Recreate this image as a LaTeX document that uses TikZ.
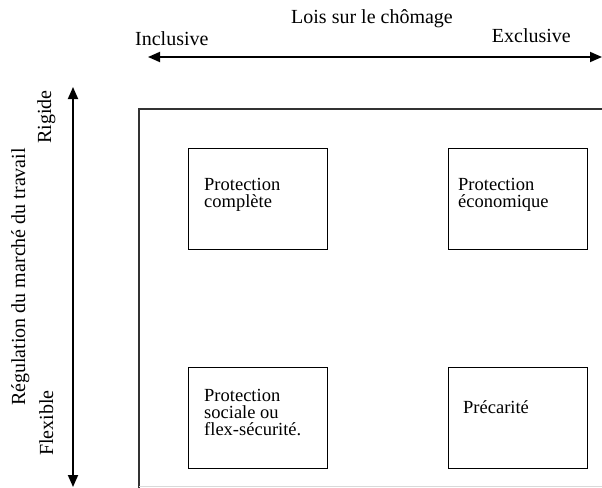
\documentclass[tikz,border=0pt]{standalone}
\usepackage{fontspec}
\setmainfont{Liberation Serif}
\usetikzlibrary{arrows.meta}
\begin{document}
\begin{tikzpicture}[x=1pt,y=-1pt,
  box/.style={draw=black, line width=1.3pt, minimum width=139pt, minimum height=101pt, inner sep=0pt, anchor=north west},
  lbl/.style={font=\fontsize{20}{24}\selectfont, inner sep=0pt},
  boxtxt/.style={font=\fontsize{18.5}{17}\selectfont, inner sep=0pt, anchor=base west},
  axis/.style={line width=1.8pt, {Triangle[length=12pt,width=10pt]}-{Triangle[length=12pt,width=10pt]}}]
\useasboundingbox (0,0) rectangle (602,487);
% outer frame
\draw[line width=1.8pt, black!80] (139,492) -- (139,109) -- (612,109);
\draw[line width=1pt, black!15] (139,486) -- (612,486);
% axes
\coordinate (hl) at (148,57);
\coordinate (hr) at (602,57);
\coordinate (vt) at (73,87);
\coordinate (vb) at (73,487);
\draw[axis] (hl) -- (hr);
\draw[axis] (vt) -- (vb);
% axis labels
\node[lbl, anchor=base] (lois) at (372,24) {Lois sur le chômage};
\node[lbl, anchor=base west] (incl) at (135,46) {Inclusive};
\node[lbl, anchor=base east] (excl) at (571,43) {Exclusive};
\node[lbl, rotate=90, anchor=base] (reg) at (25,277) {Régulation du marché du travail};
\node[lbl, rotate=90, anchor=base] (rig) at (51,117) {Rigide};
\node[lbl, rotate=90, anchor=base] (flex) at (53,423) {Flexible};
% boxes
\node[box] (b1) at (188,148) {};
\node[box] (b2) at (448,148) {};
\node[box] (b3) at (188,367) {};
\node[box] (b4) at (448,367) {};
% box texts
\node[boxtxt] (t1a) at (204,190) {Protection};
\node[boxtxt] (t1b) at (204,207) {complète};
\node[boxtxt] (t2a) at (458,190) {Protection};
\node[boxtxt] (t2b) at (458,207) {économique};
\node[boxtxt] (t3a) at (204,401) {Protection};
\node[boxtxt] (t3b) at (204,418) {sociale ou};
\node[boxtxt] (t3c) at (204,435) {flex-sécurité.};
\node[boxtxt] (t4a) at (463,413) {Précarité};
\end{tikzpicture}
\end{document}
